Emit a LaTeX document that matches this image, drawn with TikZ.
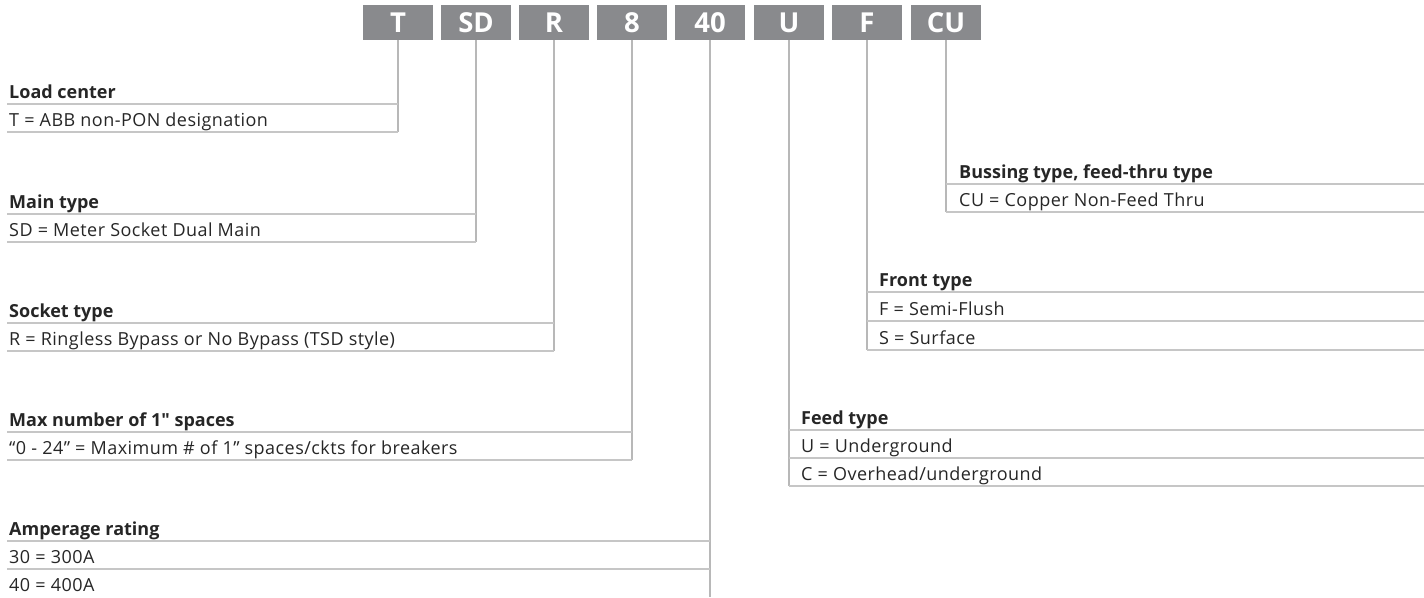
\documentclass[tikz,border=0pt]{standalone}
\usepackage{fontspec}
\setmainfont{Open Sans}
\newfontfamily\descfont{Open Sans}[LetterSpace=2.5]
\usepackage{xcolor}

\definecolor{boxgray}{HTML}{898A8D}
\definecolor{rulegray}{HTML}{C6C6C6}
\definecolor{leadgray}{HTML}{B8B8B8}
\definecolor{txtdark}{HTML}{262626}

\begin{document}
\begin{tikzpicture}[x=1pt, y=-1pt,
    codebox/.style={fill=boxgray, minimum width=70pt, minimum height=35pt, inner sep=0pt,
        text=white, font=\fontsize{27.5}{27.5}\selectfont\bfseries},
    head/.style={anchor=base west, inner sep=0pt, text=txtdark, font=\fontsize{18}{18}\selectfont\bfseries},
    desc/.style={anchor=base west, inner sep=0pt, text=txtdark, font=\descfont\fontsize{18}{18}\selectfont},
    rule/.style={draw=rulegray, line width=1.4pt},
    lead/.style={draw=leadgray, line width=1.3pt}]

    \useasboundingbox (0,0) rectangle (1424,597);

    % Code boxes along the top
    \node[codebox] (bT)  at (398, 22.5) {T};
    \node[codebox] (bSD) at (476, 22.5) {SD};
    \node[codebox] (bR)  at (554, 22.5) {R};
    \node[codebox] (b8)  at (632, 22.5) {8};
    \node[codebox] (b40) at (710, 22.5) {40};
    \node[codebox] (bU)  at (789, 22.5) {U};
    \node[codebox] (bF)  at (867, 22.5) {F};
    \node[codebox] (bCU) at (946, 22.5) {CU};

    % Ends of the leader lines
    \coordinate (eT)  at (398, 132);
    \coordinate (eSD) at (476, 242);
    \coordinate (eR)  at (554, 351);
    \coordinate (e8)  at (632, 460);
    \coordinate (e40) at (710, 597);
    \coordinate (eU)  at (789, 486);
    \coordinate (eF)  at (867, 350);
    \coordinate (eCU) at (946, 212);

    % Leader lines
    \draw[lead] (bT.south)  -- (eT);
    \draw[lead] (bSD.south) -- (eSD);
    \draw[lead] (bR.south)  -- (eR);
    \draw[lead] (b8.south)  -- (e8);
    \draw[lead] (b40.south) -- (e40);
    \draw[lead] (bU.south)  -- (eU);
    \draw[lead] (bF.south)  -- (eF);
    \draw[lead] (bCU.south) -- (eCU);

    % Left hand descriptions
    \node[head] (hLoad) at (9, 98) {Load center};
    \draw[rule] (7, 104) -- (398, 104);
    \node[desc] (dLoad) at (9, 126) {T = ABB non-PON designation};
    \draw[rule] (7, 132) -- (eT);

    \node[head] (hMain) at (9, 208) {Main type};
    \draw[rule] (7, 214) -- (476, 214);
    \node[desc] (dMain) at (9, 236) {SD = Meter Socket Dual Main};
    \draw[rule] (7, 242) -- (eSD);

    \node[head] (hSock) at (9, 317) {Socket type};
    \draw[rule] (7, 323) -- (554, 323);
    \node[desc] (dSock) at (9, 345) {R = Ringless Bypass or No Bypass (TSD style)};
    \draw[rule] (7, 351) -- (eR);

    \node[head] (hMax) at (9, 426) {Max number of 1\textquotedbl\ spaces};
    \draw[rule] (7, 432) -- (632, 432);
    \node[desc] (dMax) at (9, 454) {“0 - 24” = Maximum \# of 1” spaces/ckts for breakers};
    \draw[rule] (7, 460) -- (e8);

    \node[head] (hAmp) at (9, 535) {Amperage rating};
    \draw[rule] (7, 541) -- (710, 541);
    \node[desc] (dAmp1) at (9, 563) {30 = 300A};
    \draw[rule] (7, 569) -- (710, 569);
    \node[desc] (dAmp2) at (9, 591) {40 = 400A};

    % Right hand descriptions
    \node[head] (hBus) at (959, 178) {Bussing type, feed-thru type};
    \draw[rule] (946, 184) -- (1424, 184);
    \node[desc] (dBus) at (959, 206) {CU = Copper Non-Feed Thru};
    \draw[rule] (eCU) -- (1424, 212);

    \node[head] (hFront) at (879, 286) {Front type};
    \draw[rule] (867, 292) -- (1424, 292);
    \node[desc] (dFront1) at (879, 315) {F = Semi-Flush};
    \draw[rule] (867, 321) -- (1424, 321);
    \node[desc] (dFront2) at (879, 344) {S = Surface};
    \draw[rule] (eF) -- (1424, 350);

    \node[head] (hFeed) at (801, 424) {Feed type};
    \draw[rule] (789, 430) -- (1424, 430);
    \node[desc] (dFeed1) at (801, 452) {U = Underground};
    \draw[rule] (789, 458) -- (1424, 458);
    \node[desc] (dFeed2) at (801, 480) {C = Overhead/underground};
    \draw[rule] (eU) -- (1424, 486);

\end{tikzpicture}
\end{document}
